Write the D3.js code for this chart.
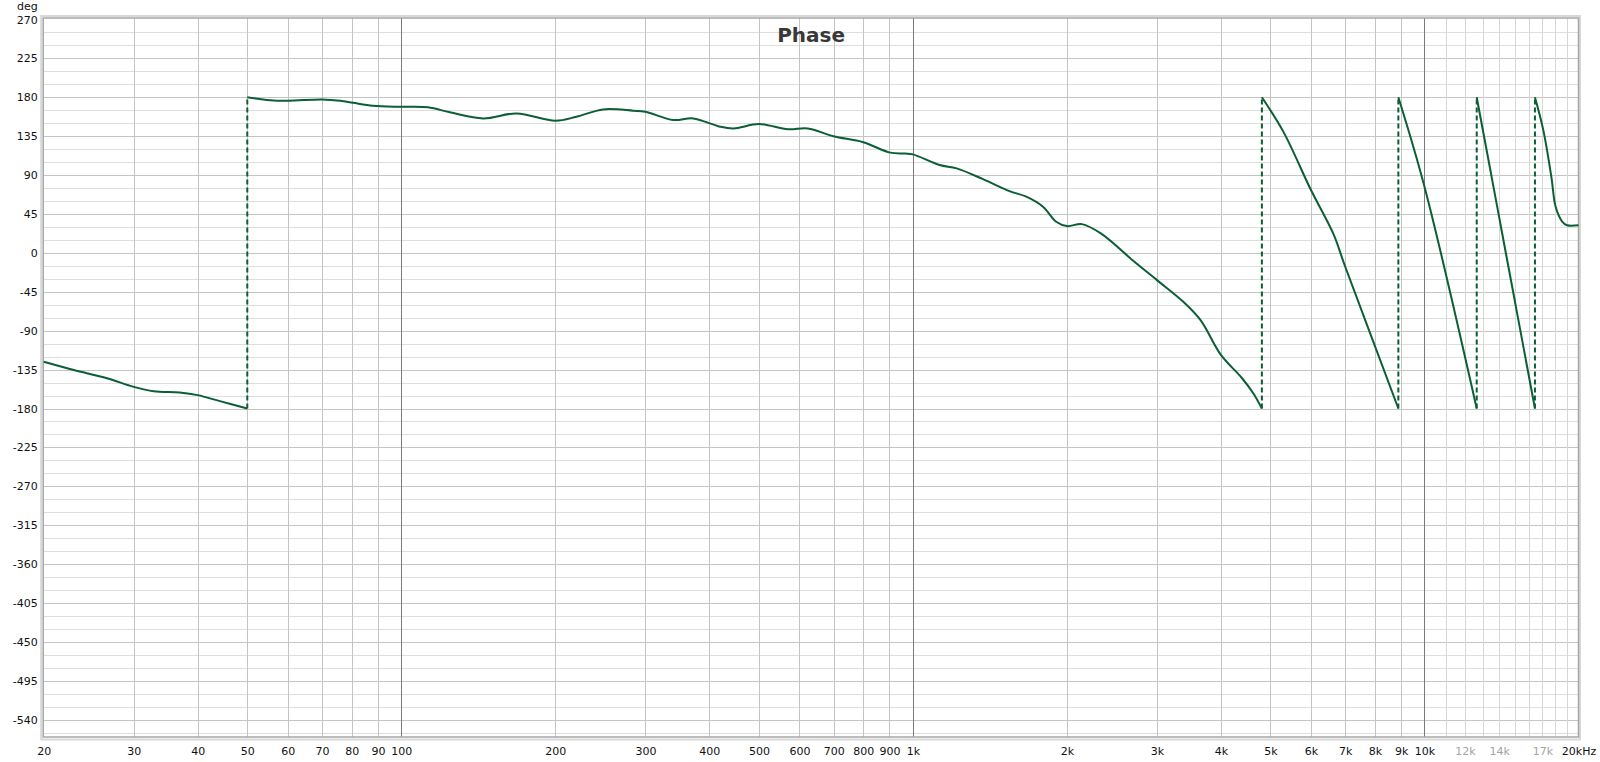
<!DOCTYPE html>
<html>
<head>
<meta charset="utf-8">
<script src="https://cdn.jsdelivr.net/npm/d3@7"></script>
<style>
  body { margin: 0; background: #fff; }
  svg text { font-family: "DejaVu Sans", Verdana, sans-serif; }
</style>
</head>
<body>
<div id="chart"></div>
<script>
// phase response. A repeated frequency is a wrap (-180 -> +180)
const freqs = [20, 22.9, 26.6, 30, 32.8, 36.9, 40, 44.2, 50,
  50, 54.6, 60, 70, 76, 80.5, 88, 100, 112.8, 124.5, 144.6, 168, 200, 220, 248, 284, 300,
  340, 372, 420, 446, 500, 570, 623, 699, 800, 903, 966, 1000, 1128, 1218, 1374, 1545,
  1666, 1796, 1906, 2000, 2140, 2330, 2710, 3000, 3378, 3650, 4000, 4400, 4630, 4810,
  4810, 5300, 6000, 6630, 7000, 8890,
  8890, 10000, 12650,
  12650, 16440,
  16440, 17070, 17700, 18050, 18600, 19000, 20000];
const phase = [-126, -135.5, -145, -155, -160, -161.5, -164.5, -171.5, -180,
  180, 177, 176, 177.5, 176, 173.7, 170.3, 169, 168.4, 162.6, 155.6, 161.4, 153, 157.5, 166, 164.5, 163.3,
  153.7, 155.6, 146, 144, 149, 143, 144, 135, 128, 116, 115, 114, 101.6, 97.8, 85, 71.5,
  65, 53.4, 36, 31, 33.3, 22.5, -10.3, -31.5, -56.6, -77.8, -118, -145, -162.6, -180,
  180, 140, 72.7, 22.5, -16, -180,
  180, 76.5, -180,
  180, -180,
  180, 142, 88, 53, 36, 32, 32];

const xTickValues = [20, 30, 40, 50, 60, 70, 80, 90, 100, 200, 300, 400, 500, 600, 700, 800, 900,
  1000, 2000, 3000, 4000, 5000, 6000, 7000, 8000, 9000, 10000, 12000, 14000, 17000, 20000];
const xTickLabels = ["20", "30", "40", "50", "60", "70", "80", "90", "100", "200", "300", "400", "500",
  "600", "700", "800", "900", "1k", "2k", "3k", "4k", "5k", "6k", "7k", "8k", "9k", "10k",
  "12k", "14k", "17k", "20kHz"];
const greyTicks = [12000, 14000, 17000];
const xGridValues = [30, 40, 50, 60, 70, 80, 90, 100, 200, 300, 400, 500, 600, 700, 800, 900,
  1000, 2000, 3000, 4000, 5000, 6000, 7000, 8000, 9000, 10000,
  11000, 12000, 13000, 14000, 15000, 16000, 17000, 18000, 19000];
const decades = [100, 1000, 10000];

const yTickValues = [270, 225, 180, 135, 90, 45, 0, -45, -90, -135, -180, -225, -270,
  -315, -360, -405, -450, -495, -540];

const width = 1600, height = 762;
const plot = {left: 43.7, right: 1578.5, top: 19.5, bottom: 737};

const svg = d3.select("#chart").append("svg")
  .attr("width", width)
  .attr("height", height);

const x = d3.scaleLog().domain([20, 20000]).range([plot.left, plot.right]);
const y = d3.scaleLinear().domain([-560, 270]).range([plot.bottom, plot.top]);

// horizontal grid, every 15 deg, the labelled ones a bit darker
const yGrid = d3.range(255, -560, -15);
svg.append("g")
  .selectAll("line")
  .data(yGrid)
  .join("line")
  .attr("x1", plot.left).attr("x2", plot.right)
  .attr("y1", d => Math.round(y(d)) + 0.5)
  .attr("y2", d => Math.round(y(d)) + 0.5)
  .attr("stroke", d => d % 45 === 0 ? "#c4c4c4" : "#dedede")
  .attr("stroke-width", 1);

// vertical grid
svg.append("g")
  .selectAll("line")
  .data(xGridValues)
  .join("line")
  .attr("x1", d => Math.round(x(d)) + 0.5)
  .attr("x2", d => Math.round(x(d)) + 0.5)
  .attr("y1", 18).attr("y2", plot.bottom)
  .attr("stroke", d => decades.includes(d) ? "#7a7a7a" : (d > 10000 ? "#d6d6d6" : "#c4c4c4"))
  .attr("stroke-width", 1);

// plot frame
svg.append("rect")
  .attr("x", plot.left - 2.5).attr("y", 16)
  .attr("width", plot.right - plot.left + 4).attr("height", plot.bottom - 16 + 2.5)
  .attr("fill", "none")
  .attr("stroke", "#d8d8d8")
  .attr("stroke-width", 2);
svg.append("rect")
  .attr("x", plot.left - 0.5).attr("y", 18)
  .attr("width", plot.right - plot.left + 0.5).attr("height", plot.bottom - 18)
  .attr("fill", "none")
  .attr("stroke", "#a6a6a6")
  .attr("stroke-width", 1.5);

// split into continuous pieces where a frequency repeats (phase wrap)
const points = freqs.map((f, i) => ({f: f, p: phase[i]}));
const pieces = [];
const wraps = [];
let cur = [points[0]];
for (let i = 1; i < points.length; i++) {
  if (points[i].f === points[i - 1].f) {
    pieces.push(cur);
    wraps.push([points[i - 1], points[i]]);
    cur = [];
  }
  cur.push(points[i]);
}
pieces.push(cur);

const line = d3.line()
  .x(d => x(d.f))
  .y(d => y(d.p))
  .curve(d3.curveCatmullRom.alpha(0.5));

const green = "#0b5e35";

svg.append("g")
  .selectAll("line")
  .data(wraps)
  .join("line")
  .attr("x1", d => x(d[0].f)).attr("x2", d => x(d[1].f))
  .attr("y1", d => y(d[0].p)).attr("y2", d => y(d[1].p))
  .attr("stroke", green)
  .attr("stroke-width", 2)
  .attr("stroke-dasharray", "5,3");

svg.append("g")
  .selectAll("path")
  .data(pieces)
  .join("path")
  .attr("d", line)
  .attr("fill", "none")
  .attr("stroke", green)
  .attr("stroke-width", 2)
  .attr("stroke-linejoin", "round");

// axes
const xAxis = d3.axisBottom(x)
  .tickValues(xTickValues)
  .tickFormat((d, i) => xTickLabels[i])
  .tickSize(0)
  .tickPadding(10);
const xAxisGroup = svg.append("g")
  .attr("transform", `translate(0,${plot.bottom})`)
  .call(xAxis);
xAxisGroup.select(".domain").remove();
xAxisGroup.selectAll("text")
  .style("font-size", "11px")
  .attr("fill", d => greyTicks.includes(d) ? "#a3a3a3" : "#111");

const yAxis = d3.axisLeft(y)
  .tickValues(yTickValues)
  .tickFormat(d => String(d))
  .tickSize(0)
  .tickPadding(6);
const yAxisGroup = svg.append("g")
  .attr("transform", `translate(${plot.left},0)`)
  .call(yAxis);
yAxisGroup.select(".domain").remove();
yAxisGroup.selectAll("text")
  .style("font-size", "11px")
  .attr("fill", "#111");

svg.append("text")
  .attr("x", plot.left - 6)
  .attr("y", 10)
  .attr("text-anchor", "end")
  .style("font-size", "11px")
  .attr("fill", "#111")
  .text("deg");

svg.append("text")
  .attr("x", (plot.left + plot.right) / 2)
  .attr("y", 42)
  .attr("text-anchor", "middle")
  .style("font-size", "20px")
  .style("font-weight", "bold")
  .attr("fill", "#383838")
  .text("Phase");
</script>
</body>
</html>
